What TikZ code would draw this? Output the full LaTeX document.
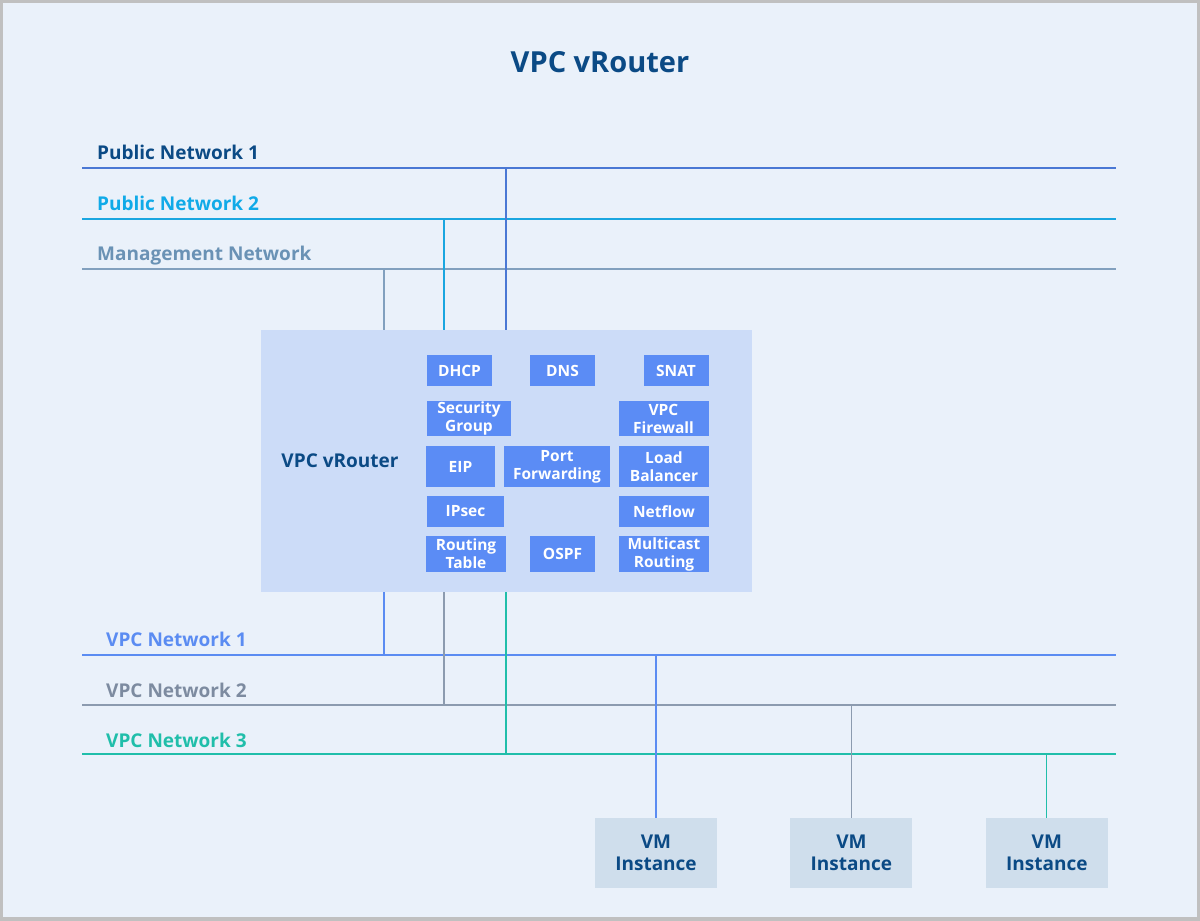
\documentclass[tikz,border=0pt]{standalone}
\usepackage{fontspec}
\setmainfont{Open Sans}
\usepackage{tikz}
\usetikzlibrary{positioning}
\definecolor{frame}{RGB}{192,192,192}
\definecolor{canvas}{RGB}{234,241,250}
\definecolor{darkblue}{RGB}{11,74,133}
\definecolor{pubone}{RGB}{74,120,212}
\definecolor{pubtwo}{RGB}{26,166,224}
\definecolor{pubtwotext}{RGB}{16,170,232}
\definecolor{mgmt}{RGB}{130,160,190}
\definecolor{mgmttext}{RGB}{106,146,181}
\definecolor{vpcone}{RGB}{91,140,242}
\definecolor{vpctwo}{RGB}{140,155,175}
\definecolor{vpctwotext}{RGB}{125,139,160}
\definecolor{vpcthree}{RGB}{32,190,170}
\definecolor{routerfill}{RGB}{204,220,248}
\definecolor{servicefill}{RGB}{91,140,245}
\definecolor{vmfill}{RGB}{207,222,236}

\begin{document}
\begin{tikzpicture}[x=1pt, y=-1pt,
    bus/.style={line width=1.2pt},
    netlabel/.style={anchor=base west, inner sep=0pt, font=\fontsize{19}{21}\selectfont\bfseries},
    router/.style={rectangle, fill=routerfill, minimum width=491pt, minimum height=262pt, inner sep=0pt},
    service/.style={rectangle, fill=servicefill, text=white, inner sep=0pt, align=center, font=\fontsize{15.5}{18}\selectfont\bfseries},
    vm/.style={rectangle, fill=vmfill, text=darkblue, minimum width=122pt, minimum height=70pt, inner sep=0pt, align=center, font=\fontsize{19}{22}\selectfont\bfseries}
]
\useasboundingbox (0,0) rectangle (1200,921);
\fill[frame] (0,0) rectangle (1200,921);
\fill[canvas] (3,3) rectangle (1197,917);

\node (TITLE) at (600,62) [text=darkblue, font=\fontsize{29}{32}\selectfont\bfseries] {VPC vRouter};

% networks
\coordinate (PN1W) at (82,168);  \coordinate (PN1E) at (1116,168);
\coordinate (PN2W) at (82,219);  \coordinate (PN2E) at (1116,219);
\coordinate (MGW)  at (82,269);  \coordinate (MGE)  at (1116,269);
\coordinate (VN1W) at (82,655);  \coordinate (VN1E) at (1116,655);
\coordinate (VN2W) at (82,705);  \coordinate (VN2E) at (1116,705);
\coordinate (VN3W) at (82,754);  \coordinate (VN3E) at (1116,754);

\node (PN1) at (97,159)  [netlabel, text=darkblue] {Public Network 1};
\node (PN2) at (97,210)  [netlabel, text=pubtwotext] {Public Network 2};
\node (MG)  at (97,260)  [netlabel, text=mgmttext] {Management Network};
\node (VN1) at (106,646) [netlabel, text=vpcone] {VPC Network 1};
\node (VN2) at (106,697) [netlabel, text=vpctwotext] {VPC Network 2};
\node (VN3) at (106,747) [netlabel, text=vpcthree] {VPC Network 3};

\draw [bus, pubone]   (PN1W) -- (PN1E);
\draw [bus, pubtwo]   (PN2W) -- (PN2E);
\draw [bus, mgmt]     (MGW) -- (MGE);
\draw [bus, vpcone]   (VN1W) -- (VN1E);
\draw [bus, vpctwo]   (VN2W) -- (VN2E);
\draw [bus, vpcthree] (VN3W) -- (VN3E);

% router
\node (ROUTER) at (506.5,461) [router] {};
\node (RLABEL) at (340,461) [text=darkblue, font=\fontsize{19}{22}\selectfont\bfseries] {VPC vRouter};

\node (DHCP)   at (459.5,370.5) [service, minimum width=65pt, minimum height=31pt] {DHCP};
\node (DNS)    at (562.5,370.5) [service, minimum width=65pt, minimum height=31pt] {DNS};
\node (SNAT)   at (676,370.5)   [service, minimum width=65pt, minimum height=31pt] {SNAT};
\node (SECGRP) at (469,418.5)   [service, minimum width=84pt, minimum height=35pt] {Security\\Group};
\node (VPCFW)  at (663.5,418.5) [service, minimum width=90pt, minimum height=35pt] {VPC\\Firewall};
\node (EIP)    at (460.5,466.5) [service, minimum width=69pt, minimum height=41pt] {EIP};
\node (PORTFW) at (557,466.5)   [service, minimum width=106pt, minimum height=41pt] {Port\\Forwarding};
\node (LB)     at (664,466.5)   [service, minimum width=90pt, minimum height=41pt] {Load\\Balancer};
\node (IPSEC)  at (465.5,511.5) [service, minimum width=77pt, minimum height=31pt] {IPsec};
\node (NETFLOW) at (664,511.5)  [service, minimum width=90pt, minimum height=31pt] {Netflow};
\node (RTABLE) at (466,554)     [service, minimum width=80pt, minimum height=36pt] {Routing\\Table};
\node (OSPF)   at (562.5,554)   [service, minimum width=65pt, minimum height=36pt] {OSPF};
\node (MCAST)  at (664,554)     [service, minimum width=90pt, minimum height=36pt] {Multicast\\Routing};

% router uplinks and downlinks
\coordinate (UPMG)  at (384,269);
\coordinate (UPPN2) at (444,219);
\coordinate (UPPN1) at (506,168);
\coordinate (DNVN1) at (384,655);
\coordinate (DNVN2) at (444,705);
\coordinate (DNVN3) at (506,754);
\draw [bus, mgmt]     (UPMG) -- (UPMG |- ROUTER.north);
\draw [bus, pubtwo]   (UPPN2) -- (UPPN2 |- ROUTER.north);
\draw [bus, pubone]   (UPPN1) -- (UPPN1 |- ROUTER.north);
\draw [bus, vpcone]   (DNVN1 |- ROUTER.south) -- (DNVN1);
\draw [bus, vpctwo]   (DNVN2 |- ROUTER.south) -- (DNVN2);
\draw [bus, vpcthree] (DNVN3 |- ROUTER.south) -- (DNVN3);

% instances
\node (VM1) at (656,853) [vm] {VM\\Instance};
\node (VM2) [vm, right=73pt of VM1] {VM\\Instance};
\node (VM3) [vm, right=73pt of VM2] {VM\\Instance};

\draw [bus, vpcone]   (VM1.north) -- (VM1.north |- VN1W);
\draw [bus, vpctwo]   (VM2.north) -- (VM2.north |- VN2W);
\draw [bus, vpcthree] (VM3.north) -- (VM3.north |- VN3W);

\end{tikzpicture}
\end{document}
